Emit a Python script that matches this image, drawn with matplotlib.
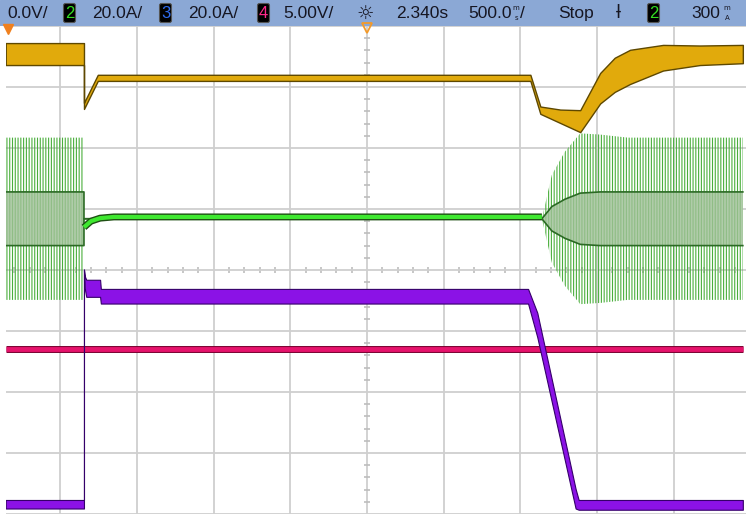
import numpy as np
import matplotlib
matplotlib.use("Agg")
import matplotlib.pyplot as plt
from matplotlib.ticker import MultipleLocator
from matplotlib.patches import FancyBboxPatch

# all trace values are in screen divisions: time 500 ms/div, 0 = trigger point
# ch1 (yellow) : centre line and half width of the band
ch1_t = [-4.71, -3.69, -3.69, -3.51, 2.13, 2.26, 2.52, 2.78, 3.04, 3.23, 3.43, 3.86, 4.34, 4.90]
ch1_mid = [3.54, 3.54, 2.69, 3.15, 3.15, 2.62, 2.52, 2.44, 2.98, 3.20, 3.33, 3.48, 3.52, 3.54]
ch1_hw = [0.18, 0.18, 0.05, 0.05, 0.05, 0.06, 0.11, 0.18, 0.25, 0.28, 0.28, 0.21, 0.16, 0.15]

# ch2 (green) : switching burst before/after, DC level in between
ch2_burst_t = [-4.71, -3.69, -3.69, 2.28, 2.41, 2.58, 2.78, 3.04, 3.4, 4.90]
ch2_burst_amp = [1.33, 1.33, 0.0, 0.0, 0.72, 1.10, 1.40, 1.38, 1.33, 1.33]
ch2_band_amp = [0.44, 0.44, 0.0, 0.0, 0.20, 0.32, 0.42, 0.44, 0.44, 0.44]
ch2_burst_mid = 0.84
ch2_t = [-3.69, -3.60, -3.48, -3.30, 2.28]
ch2_mid = [0.70, 0.80, 0.85, 0.87, 0.87]

# ch3 (purple) : current step, then ramp down
ch3_t = [-4.71, -3.69, -3.69, -3.68, -3.66, -3.48, -3.47, 2.10, 2.22, 2.72, 2.76, 4.90]
ch3_mid = [-3.84, -3.84, 0.0, -0.20, -0.30, -0.30, -0.43, -0.43, -0.90, -3.75, -3.85, -3.85]
ch3_hw = [0.07, 0.07, 0.01, 0.10, 0.14, 0.14, 0.12, 0.12, 0.20, 0.16, 0.08, 0.08]

# ch4 (magenta) : flat
ch4_t = [-4.71, 4.90]
ch4_mid = [-1.30, -1.30]

header_items = [
    ("0.0V/", 7), ("20.0A/", 92), ("20.0A/", 188), ("5.00V/", 283),
    ("2.340s", 396), ("500.0", 468), ("Stop", 558), ("300", 691),
]
channel_boxes = [("2", 63, "#33dd22"), ("3", 159, "#2f6cf0"), ("4", 257, "#ff2a8a"), ("2", 647, "#33dd22")]

W, H = 746, 514
fig = plt.figure(figsize=(W / 100, H / 100), dpi=100)
fig.patch.set_facecolor("white")

# header bar
hx = fig.add_axes([0, 1 - 26 / H, 1, 26 / H])
hx.set_xlim(0, W)
hx.set_ylim(26, 0)
hx.axis("off")
hx.add_patch(plt.Rectangle((0, 0), W, 26, color="#8ba8d5", zorder=0))
for txt, x in header_items:
    hx.text(x, 13.5, txt, fontsize=12.5, family="Liberation Sans", color="#161622", va="center", ha="left")
for txt, x, col in channel_boxes:
    hx.add_patch(FancyBboxPatch((x + 1, 4), 11, 18, boxstyle="round,pad=0.5,rounding_size=2",
                                fc="black", ec="#555555", lw=0.8))
    hx.text(x + 6.5, 13.5, txt, fontsize=12, family="Liberation Sans", color=col, ha="center", va="center")
# small stacked unit glyphs
unit_kw = dict(fontsize=5, family="DejaVu Sans", color="#161622", ha="center", va="center")
hx.text(516, 7.5, "m", **unit_kw)
hx.text(516, 18.5, "s", **unit_kw)
hx.text(520, 13.5, "/", fontsize=12.5, family="Liberation Sans", color="#161622", va="center")
hx.text(727, 7.5, "m", **unit_kw)
hx.text(727, 18.5, "A", **unit_kw)
hx.text(365, 13, "☼", fontsize=14, family="DejaVu Sans", color="#161622", ha="center", va="center")
hx.text(618, 13.5, "ƚ", fontsize=13, family="DejaVu Sans", color="#161622", ha="center", va="center")

# graticule
ax = fig.add_axes([6 / W, 0, 1 - 6 / W, 1 - 26 / H])
ax.set_xlim((6 - 367) / 76.7, (746 - 367) / 76.7)
ax.set_ylim(-4, 4)
ax.set_facecolor("white")
ax.xaxis.set_major_locator(MultipleLocator(1))
ax.yaxis.set_major_locator(MultipleLocator(1))
ax.xaxis.set_minor_locator(MultipleLocator(0.2))
ax.yaxis.set_minor_locator(MultipleLocator(0.2))
ax.grid(True, which="major", color="#cfcfcf", lw=1.3, zorder=0)
for s in ["top", "right", "bottom", "left"]:
    ax.spines[s].set_visible(False)
ax.spines["bottom"].set_position(("data", 0))
ax.spines["left"].set_position(("data", 0))
ax.tick_params(which="both", direction="inout", color="#bdbdbd", labelbottom=False, labelleft=False)
ax.tick_params(which="major", length=0)
ax.tick_params(which="minor", length=5, width=1.2)
ax.set_axisbelow(True)

ch1_t = np.array(ch1_t); ch1_mid = np.array(ch1_mid); ch1_hw = np.array(ch1_hw)
ax.fill_between(ch1_t, ch1_mid - ch1_hw, ch1_mid + ch1_hw, fc="#e1aa0c", ec="#5e4800", lw=1.0, zorder=3)

bt = np.array(ch2_burst_t); ba = np.array(ch2_burst_amp); bb = np.array(ch2_band_amp)
plt.rcParams["hatch.linewidth"] = 0.8
ax.fill_between(bt, ch2_burst_mid - bb, ch2_burst_mid + bb, fc="#b0ccaa", ec="#8fbd85", hatch="||||||", lw=0, zorder=2)
ax.fill_between(bt, ch2_burst_mid + bb, ch2_burst_mid + ba, fc="none", ec="#4aae3c", hatch="||||||", lw=0, zorder=2.2)
ax.fill_between(bt, ch2_burst_mid - ba, ch2_burst_mid - bb, fc="none", ec="#4aae3c", hatch="||||||", lw=0, zorder=2.2)
ax.plot(bt, ch2_burst_mid + bb, color="#2b6a24", lw=1.2, zorder=2.3)
ax.plot(bt, ch2_burst_mid - bb, color="#2b6a24", lw=1.2, zorder=2.3)
ax.plot(ch2_t, ch2_mid, color="#1f4f14", lw=5, zorder=3, solid_capstyle="butt")
ax.plot(ch2_t, ch2_mid, color="#3fe830", lw=3, zorder=3.1, solid_capstyle="butt")

ax.plot(ch4_t, ch4_mid, color="#7a0030", lw=5, zorder=3.5, solid_capstyle="butt")
ax.plot(ch4_t, ch4_mid, color="#e6136c", lw=3.5, zorder=3.6, solid_capstyle="butt")

ch3_t = np.array(ch3_t); ch3_mid = np.array(ch3_mid); ch3_hw = np.array(ch3_hw)
ax.fill_between(ch3_t, ch3_mid - ch3_hw, ch3_mid + ch3_hw, fc="#8b12e6", ec="#35006a", lw=0.8, zorder=4)

# markers on the top edge
ax.plot([0], [3.97], marker="v", ms=7, mfc="none", mec="#f39a2a", mew=1.3, clip_on=False, zorder=6)
ax.plot([(8 - 367) / 76.7], [3.95], marker="v", ms=7, color="#f0801e", clip_on=False, zorder=6)

fig.savefig("out.png", dpi=100)
